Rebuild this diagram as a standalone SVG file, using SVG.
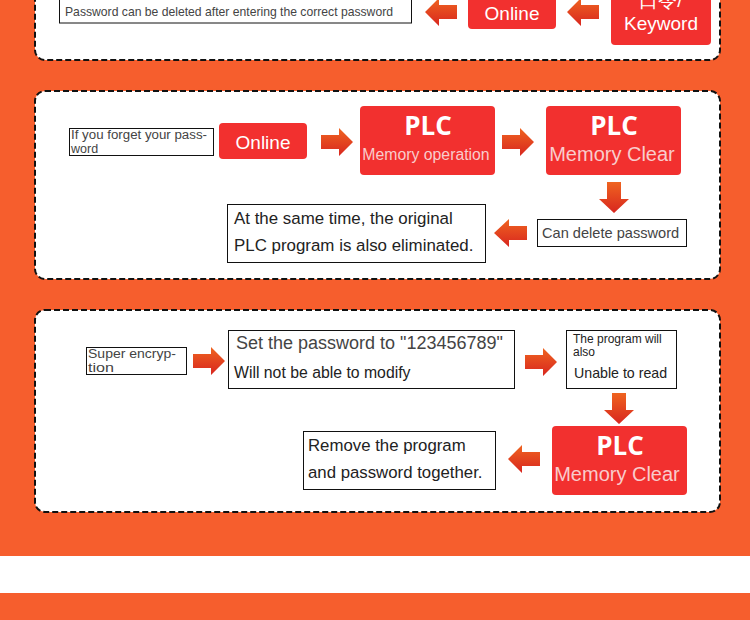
<svg xmlns="http://www.w3.org/2000/svg" width="750" height="620" viewBox="0 0 750 620">
<defs>
<linearGradient id="ag" x1="0" y1="0" x2="0" y2="1">
<stop offset="0" stop-color="#ef6420"/>
<stop offset="1" stop-color="#d8261f"/>
</linearGradient>
<style>
.panel{fill:#fff;stroke:#111;stroke-width:2;stroke-dasharray:6,3}
.red{fill:#f2302f}
.tbox{fill:#fff;stroke:#111;stroke-width:1}
.arr{fill:url(#ag)}
.w{fill:#fff;font-family:"Liberation Sans",Arial,sans-serif;text-anchor:middle}
.plc{fill:#fff;font-family:"Open Sans","DejaVu Sans",sans-serif;font-weight:bold;font-size:26px;text-anchor:middle}
.pink{fill:#f9cccc;font-family:"Liberation Sans",Arial,sans-serif;text-anchor:middle}
.t{font-family:"Liberation Sans",Arial,sans-serif;fill:#222}
.g{font-family:"Liberation Sans",Arial,sans-serif;fill:#444}
</style>
</defs>
<rect x="0" y="0" width="750" height="620" fill="#f65e2d"/>
<rect x="0" y="556" width="750" height="37" fill="#fff"/>

<rect class="panel" x="35" y="-20" width="685" height="80" rx="10"/>
<rect class="panel" x="35" y="91" width="685" height="188" rx="10"/>
<rect class="panel" x="35" y="310" width="685" height="202" rx="10"/>

<g id="connectors">
<path class="arr" d="M457,5 H439 V-2 L425,12 L439,26 V19 H457 Z"/>
<path class="arr" d="M599,5 H581 V-2 L567,12 L581,26 V19 H599 Z"/>
<path class="arr" d="M321,135 H339 V128 L353,142 L339,156 V149 H321 Z"/>
<path class="arr" d="M502,135 H520 V128 L534,142 L520,156 V149 H502 Z"/>
<path class="arr" d="M607,182 H621 V199 L629,199 L614,213 L599,199 H607 Z"/>
<path class="arr" d="M527,226 H509 V219 L494,233 L509,247 V240 H527 Z"/>
<path class="arr" d="M193,354 H211 V347 L225,361 L211,375 V368 H193 Z"/>
<path class="arr" d="M525,355 H543 V348 L557,362 L543,376 V369 H525 Z"/>
<path class="arr" d="M612,393 H626 V410 L634,410 L619,424 L604,410 H612 Z"/>
<path class="arr" d="M540,452 H522 V445 L508,459 L522,473 V466 H540 Z"/>
</g>

<g id="n-password-deleted">
<rect class="tbox" x="59.5" y="-10" width="352" height="33"/>
<text class="g" x="65" y="16" font-size="13" textLength="328" lengthAdjust="spacingAndGlyphs">Password can be deleted after entering the correct password</text>
</g>
<g id="n-online-top">
<rect class="red" x="468" y="-10" width="88" height="39" rx="4"/>
<text class="w" x="512" y="20" font-size="19">Online</text>
</g>
<g id="n-keyword">
<rect class="red" x="611" y="-10" width="100" height="55" rx="4"/>
<text class="w" x="661" y="7" font-size="19" font-family="'Liberation Sans','Noto Sans CJK SC',sans-serif">口令/</text>
<text class="w" x="661" y="30" font-size="19">Keyword</text>
</g>

<g id="n-forget">
<rect class="tbox" x="69.5" y="128.5" width="144" height="27"/>
<text class="g" x="71" y="139" font-size="12.5" textLength="136" lengthAdjust="spacingAndGlyphs">If you forget your pass-</text>
<text class="g" x="71" y="153" font-size="12.5">word</text>
</g>
<g id="n-online">
<rect class="red" x="219" y="123" width="88" height="36" rx="4"/>
<text class="w" x="263" y="149" font-size="19">Online</text>
</g>
<g id="n-plc-memop">
<rect class="red" x="360" y="106" width="135" height="69" rx="4"/>
<text class="plc" x="428" y="135">PLC</text>
<text class="pink" x="426" y="160" font-size="15.8">Memory operation</text>
</g>
<g id="n-plc-clear1">
<rect class="red" x="546" y="106" width="135" height="69" rx="4"/>
<text class="plc" x="614" y="135">PLC</text>
<text class="pink" x="612" y="161" font-size="20">Memory Clear</text>
</g>
<g id="n-can-delete">
<rect class="tbox" x="537.5" y="219.5" width="149" height="27"/>
<text class="g" x="542" y="238" font-size="14.6">Can delete password</text>
</g>
<g id="n-same-time">
<rect class="tbox" x="227.5" y="204.5" width="258" height="58"/>
<text class="t" x="234" y="224" font-size="16.9">At the same time, the original</text>
<text class="t" x="234" y="251" font-size="16.9">PLC program is also eliminated.</text>
</g>

<g id="n-super">
<rect class="tbox" x="86.5" y="347.5" width="100" height="27"/>
<text class="g" x="88" y="358" font-size="12.5" textLength="88" lengthAdjust="spacingAndGlyphs">Super encryp-</text>
<text class="g" x="88" y="372" font-size="12.5" textLength="26" lengthAdjust="spacingAndGlyphs">tion</text>
</g>
<g id="n-set-password">
<rect class="tbox" x="228.5" y="330.5" width="286" height="58"/>
<text class="g" x="236" y="349" font-size="18" fill="#555">Set the password to "123456789"</text>
<text class="t" x="234" y="378" font-size="15.8" fill="#111">Will not be able to modify</text>
</g>
<g id="n-unable-read">
<rect class="tbox" x="566.5" y="330.5" width="110" height="58"/>
<text class="t" x="573" y="343" font-size="12">The program will</text>
<text class="t" x="573" y="356" font-size="12">also</text>
<text class="t" x="574" y="378" font-size="14.2">Unable to read</text>
</g>
<g id="n-plc-clear2">
<rect class="red" x="552" y="426" width="135" height="69" rx="4"/>
<text class="plc" x="620" y="455">PLC</text>
<text class="pink" x="617" y="481" font-size="20">Memory Clear</text>
</g>
<g id="n-remove">
<rect class="tbox" x="303.5" y="431.5" width="192" height="58"/>
<text class="t" x="308" y="451" font-size="16.8">Remove the program</text>
<text class="t" x="308" y="478" font-size="16.8">and password together.</text>
</g>
</svg>
